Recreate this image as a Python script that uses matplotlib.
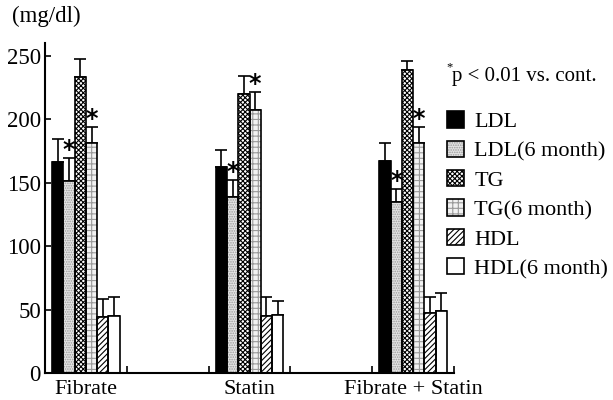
import matplotlib
matplotlib.use("Agg")
import matplotlib.pyplot as plt
from matplotlib.patches import Patch
from matplotlib.legend_handler import HandlerTuple
import numpy as np

plt.rcParams['font.family'] = ['Liberation Serif', 'DejaVu Serif']
plt.rcParams['hatch.linewidth'] = 0.8

groups = ['Fibrate', 'Statin', 'Fibrate + Statin']
series = ['LDL', 'LDL(6 month)', 'TG', 'TG(6 month)', 'HDL', 'HDL(6 month)']

# mean values (mg/dl) per series, one per group
means = {
    'LDL':          [166, 162, 167],
    'LDL(6 month)': [151, 139, 135],
    'TG':           [233, 220, 239],
    'TG(6 month)':  [181, 207, 181],
    'HDL':          [44, 45, 47],
    'HDL(6 month)': [45, 46, 49],
}
# upper error (SD)
errs = {
    'LDL':          [18, 14, 14],
    'LDL(6 month)': [18, 13, 10],
    'TG':           [14, 14, 7],
    'TG(6 month)':  [13, 14, 13],
    'HDL':          [14, 15, 13],
    'HDL(6 month)': [15, 11, 14],
}
starred = ['LDL(6 month)', 'TG(6 month)']

# fill colour, hatch, hatch colour
styles = {
    'LDL':          ('black', '', 'black'),
    'LDL(6 month)': ('#e4e4e4', '.......', '#9a9a9a'),
    'TG':           ('white', 'xxxxxxx', 'black'),
    'TG(6 month)':  ('#f2f2f2', '+++', '#9a9a9a'),
    'HDL':          ('white', '//////', 'black'),
    'HDL(6 month)': ('white', '', 'black'),
}

fig = plt.figure(figsize=(6.13, 4.0), dpi=100)
ax = fig.add_axes([45/613, 27/400, 409/613, 330/400])

centers = np.array([0.5, 2.5, 4.5])
w = 0.137
handles = []
for i, s in enumerate(series):
    x = centers + (i - 2.5) * w
    fc, hatch, hc = styles[s]
    ax.bar(x, means[s], w, color=fc, hatch=hatch, edgecolor=hc, linewidth=0, zorder=2)
    ax.bar(x, means[s], w, facecolor='none', edgecolor='black', linewidth=1.2, zorder=3)
    ax.errorbar(x, means[s], yerr=[np.zeros(3), errs[s]], fmt='none', ecolor='black',
                elinewidth=1.2, capsize=4.5, capthick=1.2, zorder=1)
    if s in starred:
        for xi, m, e in zip(x, means[s], errs[s]):
            ax.text(xi, m + e - 3, '*', ha='center', va='bottom', fontsize=17,
                    fontweight='bold', family='DejaVu Sans')
    handles.append((Patch(facecolor=fc, hatch=hatch, edgecolor=hc, linewidth=0),
                    Patch(facecolor='none', edgecolor='black', linewidth=1.2)))

ax.set_xlim(0, 5)
ax.set_ylim(0, 260)
ax.set_yticks([0, 50, 100, 150, 200, 250])
ax.set_xticks(centers)
ax.set_xticklabels(groups)
ax.set_xticks([1, 2, 3, 4, 5], minor=True)
ax.tick_params(axis='x', which='major', length=0, labelsize=16, pad=5)
ax.tick_params(axis='x', which='minor', direction='in', length=5, width=1.2)
ax.tick_params(axis='y', direction='in', length=4, width=1.2, labelsize=16.5, pad=3)
for sp in ['top', 'right']:
    ax.spines[sp].set_visible(False)
for sp in ['left', 'bottom']:
    ax.spines[sp].set_linewidth(1.5)

fig.text(12/613, 1 - 16/400, '(mg/dl)', fontsize=16.5, va='center', ha='left')
fig.text(446/613, 1 - 67/400, '*', fontsize=9, va='center', ha='left')
fig.text(452/613, 1 - 77/400, 'p < 0.01 vs. cont.', fontsize=15, va='center', ha='left')

fig.legend(handles, series, handler_map={tuple: HandlerTuple(ndivide=1, pad=0)},
           loc='upper left', bbox_to_anchor=(443/613, 1 - 107/400), frameon=False,
           fontsize=16, handlelength=0.75, handleheight=0.75, handletextpad=0.45,
           labelspacing=0.38, borderpad=0.2, borderaxespad=0)

fig.savefig('out.png', dpi=100)
